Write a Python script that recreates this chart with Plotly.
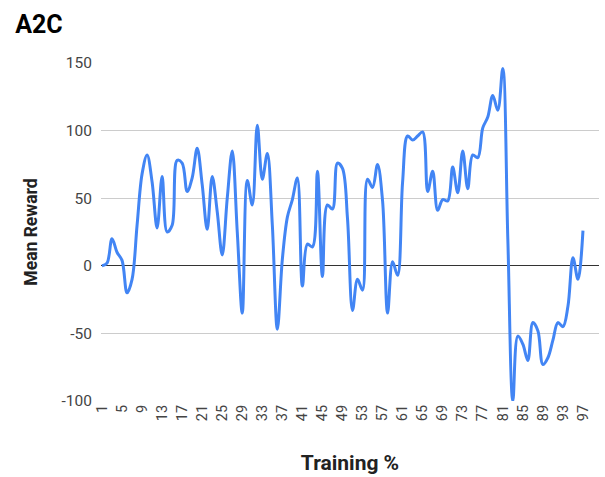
import plotly.graph_objects as go

training_pct = list(range(1, 98))
mean_reward = [
    0, 2, 20, 10, 4, -20, -10, 30, 68, 82,
    62, 28, 66, 25, 30, 78, 76, 55, 65, 87,
    60, 27, 66, 40, 8, 50, 85, 25, -35, 63,
    45, 104, 64, 83, 30, -47, 5, 36, 49, 65,
    -15, 16, 14, 70, -8, 45, 42, 76, 72, 35,
    -33, -10, -18, 64, 58, 75, 48, -35, 3, -7,
    62, 96, 93, 96, 99, 55, 70, 41, 49, 48,
    73, 54, 85, 57, 82, 80, 102, 110, 126, 115,
    146, 20, -100, -52, -58, -70, -42, -48, -73, -68,
    -55, -42, -45, -30, 6, -10, 26,
]
x_tick_vals = list(range(1, 98, 4))
y_tick_vals = [-100, -50, 0, 50, 100, 150]
y_tick_text = ["-100", "-50", "0", "50", "100", "150"]

fig = go.Figure()
fig.add_trace(go.Scatter(
    x=training_pct, y=mean_reward, mode="lines",
    line=dict(color="#4285F4", width=3, shape="spline", smoothing=1.0),
    hoverinfo="x+y", showlegend=False,
))

fig.update_layout(
    width=605, height=477,
    margin=dict(l=101, r=6, t=63, b=76),
    paper_bgcolor="white", plot_bgcolor="white",
    font=dict(family="Roboto, Arial, sans-serif", color="#444444", size=13),
    title=dict(text="<b>A2C</b>", x=0.025, xanchor="left", y=0.95, yanchor="middle",
               font=dict(size=25, color="#000000")),
    xaxis=dict(
        range=[0.8, 100.2], tickmode="array", tickvals=x_tick_vals,
        ticktext=[str(v) for v in x_tick_vals], tickangle=-90,
        showgrid=False, zeroline=False, showline=False, ticks="",
        tickfont=dict(size=14.5, color="#444444"),
        title=dict(text="<b>Training %</b>", font=dict(size=21, color="#222222"), standoff=35),
    ),
    yaxis=dict(
        range=[-100, 150], tickmode="array", tickvals=y_tick_vals, ticktext=y_tick_text,
        showgrid=True, gridcolor="#cccccc", gridwidth=1,
        zeroline=True, zerolinecolor="#333333", zerolinewidth=1.2,
        showline=False, ticks="", ticklabelstandoff=8,
        tickfont=dict(size=15.5, color="#444444"),
        title=dict(text="<b>Mean Reward</b>", font=dict(size=17.5, color="#222222"), standoff=19),
    ),
)

fig.write_html("out.html", config={"displayModeBar": False},
               post_script="document.body.style.margin='0';")
